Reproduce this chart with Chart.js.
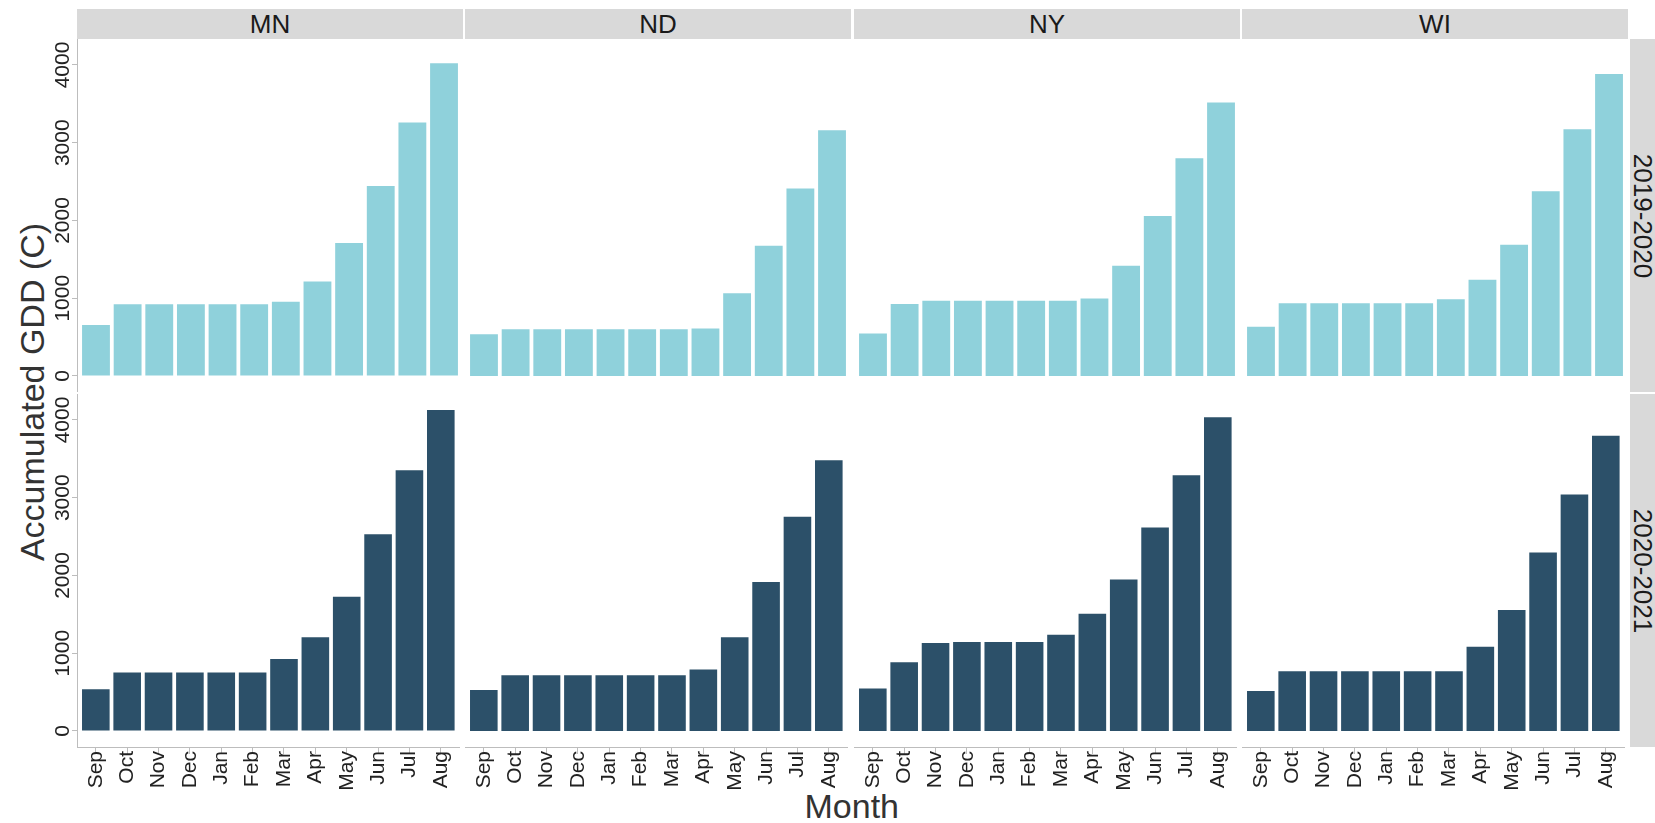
<!DOCTYPE html>
<html>
<head>
<meta charset="utf-8">
<title>Accumulated GDD by month</title>
<script src="https://cdn.jsdelivr.net/npm/chart.js@4.4.1/dist/chart.umd.min.js"></script>
<style>
  html, body { margin: 0; padding: 0; background: #fff; }
  #fig { position: relative; width: 1655px; height: 823px; overflow: hidden;
         font-family: "Liberation Sans", Arial, sans-serif; }
  .strip { position: absolute; background: #d9d9d9; color: #1a1a1a; font-size: 26px;
           display: flex; align-items: center; justify-content: center; line-height: 1; }
  .strip span { white-space: nowrap; display: block; }
  .rot90 span { transform: rotate(90deg); }
  canvas { position: absolute; }
  .title { position: absolute; color: #333; font-size: 34px; line-height: 34px; white-space: nowrap;
           transform-origin: center center; }
</style>
</head>
<body>
<div id="fig"></div>
<script>
// Facets
const states  = ['MN', 'ND', 'NY', 'WI'];
const seasons = ['2019-2020', '2020-2021'];
const months  = ['Sep', 'Oct', 'Nov', 'Dec', 'Jan', 'Feb', 'Mar', 'Apr', 'May', 'Jun', 'Jul', 'Aug'];
const gddTicks = [0, 1000, 2000, 3000, 4000];

// Accumulated growing degree days (C), Sep through Aug
const mn2019 = [655, 922, 922, 922, 922, 922, 956, 1214, 1711, 2442, 3261, 4023];
const nd2019 = [535, 600, 600, 600, 600, 600, 600, 612, 1065, 1676, 2412, 3162];
const ny2019 = [545, 926, 968, 968, 968, 968, 968, 995, 1417, 2058, 2800, 3519];
const wi2019 = [633, 935, 935, 935, 935, 935, 987, 1236, 1689, 2377, 3174, 3885];
const mn2020 = [536, 752, 752, 752, 752, 752, 924, 1204, 1725, 2530, 3353, 4128];
const nd2020 = [527, 717, 717, 717, 717, 717, 717, 791, 1204, 1915, 2755, 3482];
const ny2020 = [545, 885, 1131, 1143, 1143, 1143, 1238, 1509, 1948, 2616, 3288, 4034];
const wi2020 = [514, 769, 769, 769, 769, 769, 769, 1083, 1557, 2297, 3043, 3796];

const panelData = [
  [mn2019, nd2019, ny2019, wi2019],
  [mn2020, nd2020, ny2020, wi2020]
];
const seasonColors = ['#8fd1db', '#2c5069'];

// Geometry of the facet grid
const panelLefts = [77, 465, 854, 1242];
const panelW = 386;
const rowTops = [39, 394];
const panelH = 353;
const stripTop = 9, stripH = 30;
const yAxisW = 40, xAxisH = 62;
const axisGray = '#bdbdbd';
const tickText = '#222';

// Shared y range with 5% expansion on both sides
const allVals = panelData.flat(2);
const yMaxData = Math.max(...allVals);
const yMin = -0.05 * yMaxData, yMax = 1.05 * yMaxData;

Chart.defaults.font.family = '"Liberation Sans", Arial, sans-serif';

const fig = document.getElementById('fig');

function addDiv(cls, left, top, width, height, text) {
  const d = document.createElement('div');
  d.className = cls;
  Object.assign(d.style, { left: left + 'px', top: top + 'px', width: width + 'px', height: height + 'px' });
  const s = document.createElement('span');
  s.textContent = text;
  d.appendChild(s);
  fig.appendChild(d);
  return d;
}

// Column strips
states.forEach((st, c) => addDiv('strip', panelLefts[c], stripTop, panelW, stripH, st));
// Row strips
seasons.forEach((se, r) => addDiv('strip rot90', 1630, rowTops[r], 26, panelH, se));

// Axis titles
const yTitle = document.createElement('div');
yTitle.className = 'title';
yTitle.textContent = 'Accumulated GDD (C)';
fig.appendChild(yTitle);
const xTitle = document.createElement('div');
xTitle.className = 'title';
xTitle.textContent = 'Month';
fig.appendChild(xTitle);

function placeCentered(el, cx, cy, rot) {
  el.style.left = '0px'; el.style.top = '0px';
  const w = el.offsetWidth, h = el.offsetHeight;
  el.style.left = (cx - w / 2) + 'px';
  el.style.top = (cy - h / 2) + 'px';
  if (rot) el.style.transform = 'rotate(' + rot + 'deg)';
}
placeCentered(yTitle, 32, 392, -90);
placeCentered(xTitle, 852, 806, 0);

// One chart per facet panel
for (let r = 0; r < 2; r++) {
  for (let c = 0; c < 4; c++) {
    const showY = c === 0;
    const showX = r === 1;
    const cw = panelW + (showY ? yAxisW : 0);
    const ch = panelH + (showX ? xAxisH : 0);
    const cv = document.createElement('canvas');
    cv.width = cw; cv.height = ch;
    Object.assign(cv.style, {
      left: (panelLefts[c] - (showY ? yAxisW : 0)) + 'px',
      top: rowTops[r] + 'px',
      width: cw + 'px', height: ch + 'px'
    });
    fig.appendChild(cv);

    const vals = panelData[r][c];
    new Chart(cv, {
      type: 'bar',
      data: {
        datasets: [{
          label: states[c] + ' ' + seasons[r],
          data: vals.map((v, i) => ({ x: i + 1, y: v })),
          backgroundColor: seasonColors[r],
          borderWidth: 0,
          barPercentage: 0.88,
          categoryPercentage: 1.0
        }]
      },
      options: {
        responsive: false,
        maintainAspectRatio: false,
        animation: false,
        layout: { padding: 0 },
        plugins: { legend: { display: false }, tooltip: { enabled: false } },
        scales: {
          x: {
            type: 'linear',
            offset: false,
            min: 0.4,
            max: months.length + 0.6,
            display: showX,
            afterBuildTicks: s => { s.ticks = months.map((m, i) => ({ value: i + 1 })); },
            afterFit: s => { if (showX) s.height = xAxisH; },
            ticks: {
              autoSkip: false,
              minRotation: 90,
              maxRotation: 90,
              padding: -3,
              color: tickText,
              font: { size: 21 },
              callback: v => months[Math.round(v) - 1] || ''
            },
            grid: { offset: false, drawOnChartArea: false, drawTicks: true, tickLength: 7, color: axisGray, lineWidth: 1 },
            border: { display: true, color: axisGray, width: 1 }
          },
          y: {
            type: 'linear',
            min: yMin,
            max: yMax,
            display: showY,
            afterBuildTicks: s => { s.ticks = gddTicks.map(v => ({ value: v })); },
            afterFit: s => { if (showY) s.width = yAxisW; },
            ticks: {
              minRotation: 90,
              maxRotation: 90,
              crossAlign: 'center',
              padding: -15,
              color: tickText,
              font: { size: 21 },
              callback: v => String(v)
            },
            grid: { drawOnChartArea: false, drawTicks: true, tickLength: 5, color: axisGray, lineWidth: 1 },
            border: { display: true, color: axisGray, width: 1 }
          }
        }
      }
    });
  }
}
</script>
</body>
</html>
